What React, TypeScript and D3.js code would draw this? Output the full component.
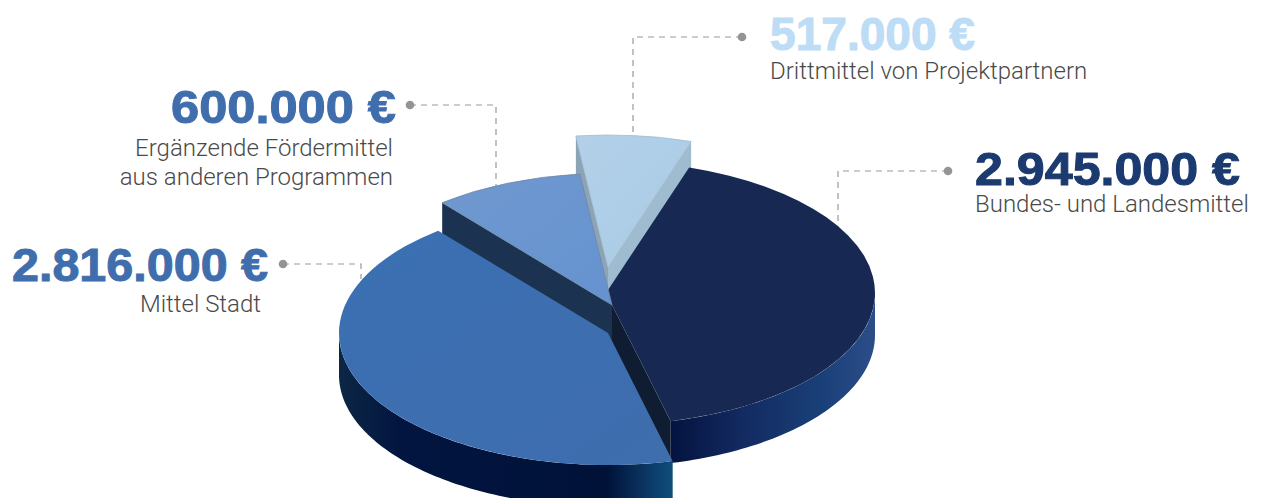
import React from "react";
import * as d3 from "d3";

// Funding sources, in clockwise order starting at the upper right of the disc
const sourceNames = ["Bundes- und Landesmittel", "Mittel Stadt", "Ergänzende Fördermittel", "Drittmittel von Projektpartnern"];
const sourceAmounts = [2945000, 2816000, 600000, 517000];
const amountLabels = ["2.945.000 €", "2.816.000 €", "600.000 €", "517.000 €"];

const WIDTH = 1267;
const HEIGHT = 498;
const RX = 269;
const RY = 132;
const DEPTH = 42;
const RAD = Math.PI / 180;

// Each wedge is pulled away from the shared hub by its own amount
const hubs: [number, number][] = [[606, 293], [608, 333], [612, 305], [608, 267]];

const topFill = ["#172853", "url(#blueTop)", "url(#midTop)", "url(#paleTop)"];

// The tilted disc compresses some sectors and stretches others
const foreshorten = (a: number) =>
  a + (8.48 * Math.sin(a) + 5.3 * Math.cos(a) - 6.63 * Math.sin(2 * a) - 3.76) * RAD;

const wedges = d3.pie<number>().sort(null).startAngle(18 * RAD).endAngle(378 * RAD)(sourceAmounts)
  .map((w) => ({ start: foreshorten(w.startAngle), end: foreshorten(w.endAngle) }));

const rimPoint = (i: number, a: number, dy = 0): [number, number] => [
  hubs[i][0] + RX * Math.sin(a),
  hubs[i][1] - RY * Math.cos(a) + dy,
];

const polyline = d3.line();

const topPath = (i: number) =>
  d3.arc()({ innerRadius: 0, outerRadius: RX, startAngle: wedges[i].start, endAngle: wedges[i].end }) as string;

// Outer wall of a wedge between two angles
const wallPath = (i: number, from: number, to: number) => {
  const angles = d3.range(from, to, 0.02).concat(to);
  const upper = angles.map((a) => rimPoint(i, a));
  const lower = angles.slice().reverse().map((a) => rimPoint(i, a, DEPTH));
  return polyline([...upper, ...lower]) + "Z";
};

// Flat cut face running from the hub out to the rim at one angle
const cutPath = (i: number, a: number) => {
  const hub = hubs[i];
  const p = rimPoint(i, a);
  return polyline([hub, p, [p[0], p[1] + DEPTH], [hub[0], hub[1] + DEPTH]]) + "Z";
};

const Top = ({ i, stroke }: { i: number; stroke?: string }) => (
  <path
    d={topPath(i)}
    transform={`translate(${hubs[i][0]},${hubs[i][1]}) scale(1,${RY / RX})`}
    fill={topFill[i]}
    stroke={stroke ?? "none"}
    strokeWidth={stroke ? 0.8 : 0}
    vectorEffect="non-scaling-stroke"
  />
);

const leaderPaths = [
  [[948, 171], [838, 171], [838, 228]],
  [[283, 264], [361, 264], [361, 279]],
  [[410, 105], [496, 105], [496, 187]],
  [[742, 37], [633, 37], [633, 133]],
] as [number, number][][];

const amountColor = ["#1b3a70", "#406ead", "#406ead", "#bddcf5"];

type Caption = { x: number; y: number; anchor: string; width: number };
const amountPlace: Caption[] = [
  { x: 975, y: 185, anchor: "start", width: 265 },
  { x: 268, y: 281, anchor: "end", width: 256 },
  { x: 396, y: 123, anchor: "end", width: 225 },
  { x: 770, y: 50, anchor: "start", width: 205 },
];
const captionLines = [
  [{ text: sourceNames[0], x: 975, y: 212, anchor: "start" }],
  [{ text: sourceNames[1], x: 261, y: 312, anchor: "end" }],
  [
    { text: sourceNames[2], x: 393, y: 156, anchor: "end" },
    { text: "aus anderen Programmen", x: 393, y: 185, anchor: "end" },
  ],
  [{ text: sourceNames[3], x: 770, y: 79, anchor: "start" }],
];

export default function App() {
  return (
    <svg
      width={WIDTH}
      height={HEIGHT}
      viewBox={`0 0 ${WIDTH} ${HEIGHT}`}
      style={{ position: "absolute", left: 0, top: 0, display: "block", background: "#fff" }}
    >
      <defs>
        <linearGradient id="navyWall" gradientUnits="userSpaceOnUse" x1={668} y1={0} x2={875} y2={0}>
          <stop offset="0" stopColor="#04123e" />
          <stop offset="0.35" stopColor="#122a60" />
          <stop offset="0.75" stopColor="#1a4079" />
          <stop offset="1" stopColor="#2c4d88" />
        </linearGradient>
        <linearGradient id="blueWall" gradientUnits="userSpaceOnUse" x1={339} y1={0} x2={673} y2={0}>
          <stop offset="0" stopColor="#0c2745" />
          <stop offset="0.18" stopColor="#021540" />
          <stop offset="0.8" stopColor="#001238" />
          <stop offset="0.92" stopColor="#0b3764" />
          <stop offset="1" stopColor="#0f4f7b" />
        </linearGradient>
        <linearGradient id="blueTop" x1="0" y1="0" x2="1" y2="1">
          <stop offset="0" stopColor="#3a70b3" />
          <stop offset="1" stopColor="#3f6dae" />
        </linearGradient>
        <linearGradient id="midTop" x1="0" y1="0" x2="1" y2="1">
          <stop offset="0" stopColor="#7098cf" />
          <stop offset="1" stopColor="#6593d0" />
        </linearGradient>
        <linearGradient id="paleTop" x1="0" y1="0" x2="1" y2="1">
          <stop offset="0" stopColor="#b3d0e8" />
          <stop offset="1" stopColor="#a9cbe6" />
        </linearGradient>
      </defs>

      {leaderPaths.map((p, i) => (
        <g key={i}>
          <path d={polyline(p) as string} fill="none" stroke="#9a9a9a" strokeWidth={1.2} strokeDasharray="6 5" />
          <circle cx={p[0][0]} cy={p[0][1]} r={4.3} fill="#949494" />
        </g>
      ))}

      {/* Pale wedge sits at the back, its two cut faces showing */}
      <path d={cutPath(3, wedges[3].start)} fill="#8da4b6" />
      <path d={cutPath(3, wedges[3].end)} fill="#9fbbcf" />
      <Top i={3} stroke="#a5bccd" />

      {/* Navy wedge */}
      <path d={wallPath(0, 90 * RAD, wedges[0].end)} fill="url(#navyWall)" />
      <path d={cutPath(0, wedges[0].end)} fill="#0f1c32" />
      <Top i={0} />

      {/* Mid blue wedge with its dark cut face */}
      <path d={cutPath(2, wedges[2].start)} fill="#1b3350" />
      <Top i={2} stroke="#6f86a6" />

      {/* City wedge lies in front of everything else */}
      <path d={wallPath(1, wedges[1].start, 270 * RAD)} fill="url(#blueWall)" />
      <Top i={1} />

      {amountLabels.map((t, i) => (
        <text
          key={t}
          x={amountPlace[i].x}
          y={amountPlace[i].y}
          textAnchor={amountPlace[i].anchor as "start" | "end"}
          fontFamily="'Liberation Sans', sans-serif"
          fontWeight={700}
          fontSize={46}
          fill={amountColor[i]}
          stroke={amountColor[i]}
          strokeWidth={1}
          textLength={amountPlace[i].width}
          lengthAdjust="spacingAndGlyphs"
        >
          {t}
        </text>
      ))}

      {captionLines.flat().map((c) => (
        <text
          key={c.text}
          x={c.x}
          y={c.y}
          textAnchor={c.anchor as "start" | "end"}
          fontFamily="Roboto, sans-serif"
          fontWeight={300}
          fontSize={24}
          fill="#4a4a4a"
        >
          {c.text}
        </text>
      ))}
    </svg>
  );
}
